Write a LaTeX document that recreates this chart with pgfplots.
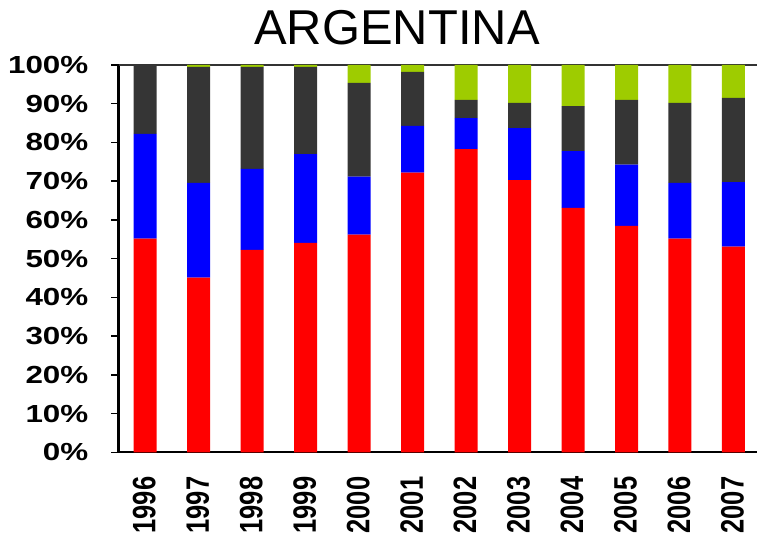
\documentclass[border=0pt]{standalone}
\usepackage{pgfplots}
\pgfplotsset{compat=1.18}
\usepackage{fontspec}
\usepackage{graphicx}
\setmainfont{Liberation Sans}

\definecolor{cRed}{RGB}{255,0,0}
\definecolor{cBlue}{RGB}{0,0,255}
\definecolor{cDark}{RGB}{53,53,53}
\definecolor{cGreen}{RGB}{158,204,0}

% wide bold tick labels
\newcommand{\ylab}[1]{\scalebox{1.27}[1]{#1\%}}
\newcommand{\yr}[1]{\scalebox{1}[1.27]{#1}}

% shares (%) per year: red, blue, dark, green
\pgfplotstableread{
x  red  blue dark green
0  55.2 27.0 17.8 0.0
1  45.1 24.5 29.9 0.5
2  52.3 20.9 26.3 0.5
3  54.1 22.9 22.5 0.5
4  56.2 15.0 24.2 4.6
5  72.2 12.1 13.9 1.8
6  78.3  8.0  4.7 9.0
7  70.3 13.4  6.5 9.8
8  63.1 14.7 11.6 10.6
9  58.5 15.8 16.7 9.0
10 55.2 14.4 20.6 9.8
11 53.1 16.7 21.7 8.5
}\shares

\begin{document}
\begin{tikzpicture}
\useasboundingbox (0,0) rectangle (757pt,534pt);
\node[font=\fontsize{48.9}{50}\selectfont, anchor=base, inner sep=0pt] at (397pt,489pt) {ARGENTINA};
\begin{axis}[
  at={(118.5pt,81.5pt)}, anchor=south west,
  scale only axis, width=641.7pt, height=387.5pt,
  ybar stacked, bar width=23pt,
  xmin=-0.5, xmax=11.5, ymin=0, ymax=100,
  axis x line*=bottom, axis y line*=left,
  axis line style={-, line width=2pt, black},
  tick align=outside,
  ytick={0,10,...,100},
  yticklabels={\ylab{0},\ylab{10},\ylab{20},\ylab{30},\ylab{40},\ylab{50},\ylab{60},\ylab{70},\ylab{80},\ylab{90},\ylab{100}},
  yticklabel style={font=\bfseries\fontsize{24.7}{26}\selectfont, anchor=east, inner sep=0pt, xshift=-23pt},
  ytick style={black, line width=1.5pt},
  major tick length=7pt,
  xtick={0,...,11},
  xticklabels={\yr{1996},\yr{1997},\yr{1998},\yr{1999},\yr{2000},\yr{2001},\yr{2002},\yr{2003},\yr{2004},\yr{2005},\yr{2006},\yr{2007}},
  xticklabel style={font=\bfseries\fontsize{25.5}{27}\selectfont, yshift=-17pt, xshift=-1pt, rotate=90, anchor=east, inner sep=0pt},
  major x tick style={draw=none},
  extra x ticks={-0.5,0.5,...,11.5},
  extra x tick labels={},
  extra x tick style={major tick length=8pt, tick style={black, line width=1.5pt}},
]
\addplot[fill=cRed, draw=none] table[x=x, y=red] {\shares};
\addplot[fill=cBlue, draw=none] table[x=x, y=blue] {\shares};
\addplot[fill=cDark, draw=none] table[x=x, y=dark] {\shares};
\addplot[fill=cGreen, draw=none] table[x=x, y=green] {\shares};
\draw[line width=1.8pt, black!80] (rel axis cs:0,1) -- (rel axis cs:1,1);
\end{axis}
\end{tikzpicture}
\end{document}
